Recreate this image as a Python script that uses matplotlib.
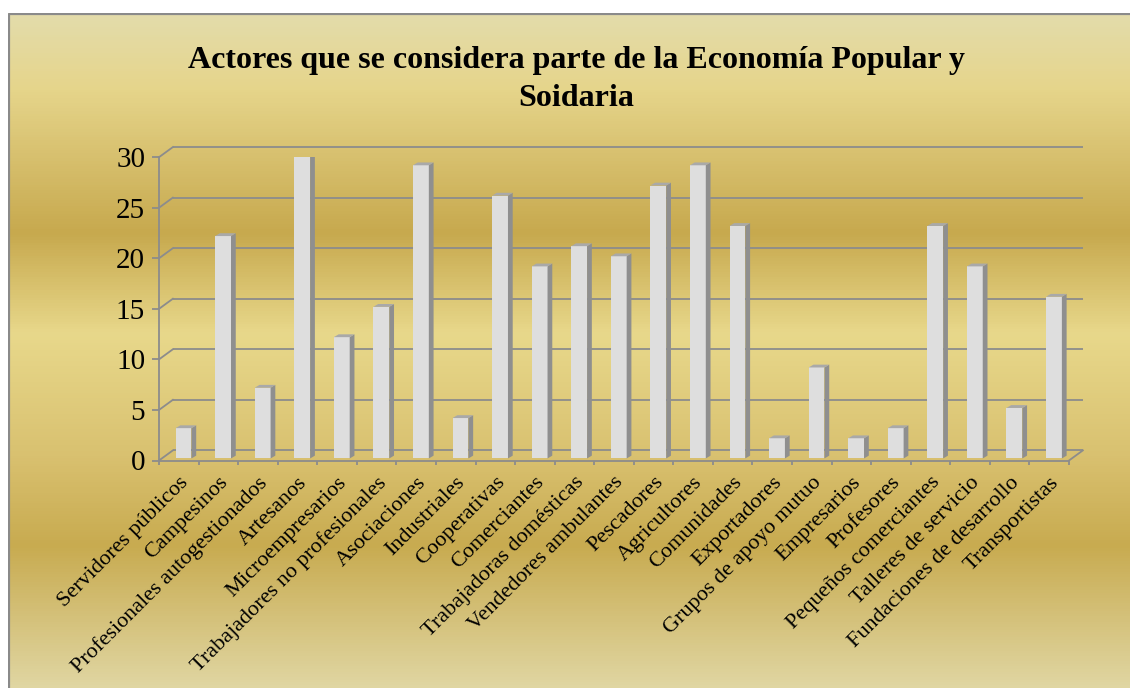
import numpy as np
import matplotlib
matplotlib.use("Agg")
import matplotlib.pyplot as plt
from matplotlib.colors import LinearSegmentedColormap
from matplotlib.patches import Polygon

# ---------------- data ----------------
categories = [
    "Servidores públicos", "Campesinos", "Profesionales autogestionados",
    "Artesanos", "Microempresarios", "Trabajadores no profesionales",
    "Asociaciones", "Industriales", "Cooperativas", "Comerciantes",
    "Trabajadoras domésticas", "Vendedores ambulantes", "Pescadores",
    "Agricultores", "Comunidades", "Exportadores", "Grupos de apoyo mutuo",
    "Empresarios", "Profesores", "Pequeños comerciantes",
    "Talleres de servicio", "Fundaciones de desarrollo", "Transportistas",
]
values = [3, 22, 7, 30, 12, 15, 29, 4, 26, 19, 21, 20, 27, 29, 23,
          2, 9, 2, 3, 23, 19, 5, 16]
yticks = [0, 5, 10, 15, 20, 25, 30]
title = "Actores que se considera parte de la Economía Popular y\nSoidaria"

# ---------------- style ----------------
W, H = 1130, 688
FONT = "Liberation Serif"
GRID = "#8c8c8c"
FRONT, SIDE, TOP = "#dedede", "#8f8f8f", "#a9a9a9"

fig = plt.figure(figsize=(W / 100, H / 100), dpi=100)
fig.patch.set_facecolor("white")

# gradient background
bg = fig.add_axes([8 / W, 0, 1 - 8 / W, (H - 13) / H])
stops = [(0.0, "#e3dcab"), (0.11, "#e6d58b"), (0.325, "#c7a94e"),
         (0.475, "#e8d88b"), (0.655, "#d9c170"), (0.79, "#c8ab50"),
         (1.0, "#e0d6a2")]
cmap = LinearSegmentedColormap.from_list("gold", stops)
grad = np.linspace(0, 1, 675).reshape(-1, 1)
bg.imshow(grad, aspect="auto", cmap=cmap, extent=[0, 1, 0, 1], origin="upper")
bg.set_xlim(0, 1)
bg.set_ylim(0, 1)
bg.axis("off")
bg.plot([0.001, 0.001, 1], [0, 0.999, 0.999], color="#8a8a8a", lw=1.6,
        solid_capstyle="butt")

# main axes (front plane)
x0, x1 = 159, 1069
y0, y1 = 460.5, 157.2
ax = fig.add_axes([x0 / W, (H - y0) / H, (x1 - x0) / W, (y0 - y1) / H])
ax.patch.set_alpha(0)
n = len(categories)
ax.set_xlim(0, n)
ax.set_ylim(0, 30)
for s in ax.spines.values():
    s.set_visible(False)

DX, DY = 0.35, 1.0  # depth of the walls in data units
lw = 1.3
# back-wall gridlines and diagonals
for v in yticks:
    ax.plot([DX, n + DX], [v + DY, v + DY], color=GRID, lw=lw, clip_on=False,
            zorder=1, solid_capstyle="butt")
    ax.plot([0, DX], [v, v + DY], color=GRID, lw=lw, clip_on=False, zorder=1)
# floor front edge and right diagonal
ax.plot([0, n], [0, 0], color=GRID, lw=lw, clip_on=False, zorder=1,
        solid_capstyle="butt")
ax.plot([n, n + DX], [0, DY], color=GRID, lw=lw, clip_on=False, zorder=1)
# front vertical axis
ax.plot([0, 0], [0, 30], color=GRID, lw=lw, clip_on=False, zorder=1)

# bars
off, bw = 0.42, 0.40
bdx, bdy = 0.12, 0.28
base = 0.2
xs = np.arange(n) + off
ax.bar(xs, values, width=bw, bottom=base, align="edge", color=FRONT,
       edgecolor="none", zorder=3)
for xl, v in zip(xs, values):
    top = base + v
    side = Polygon([(xl + bw, base), (xl + bw + bdx, base + bdy),
                    (xl + bw + bdx, top + bdy), (xl + bw, top)],
                   closed=True, facecolor=SIDE, edgecolor="none", zorder=3)
    cap = Polygon([(xl, top), (xl + bdx, top + bdy),
                   (xl + bw + bdx, top + bdy), (xl + bw, top)],
                  closed=True, facecolor=TOP, edgecolor="none", zorder=3)
    ax.add_patch(side)
    ax.add_patch(cap)

# y ticks
ax.set_yticks(yticks)
ax.set_yticklabels([str(v) for v in yticks], fontfamily=FONT, fontsize=21)
ax.tick_params(axis="y", direction="out", length=5, width=lw, color=GRID,
               pad=5)

# x ticks: labels at centres, marks at boundaries
ax.set_xticks(np.arange(n) + 0.5)
ax.set_xticklabels(categories, fontfamily=FONT, fontsize=16, rotation=45,
                   ha="right", va="top", rotation_mode="anchor")
ax.set_xticks(np.arange(n + 1), minor=True)
ax.tick_params(axis="x", which="major", length=0, pad=9)
ax.tick_params(axis="x", which="minor", direction="out", length=3, width=lw,
               color=GRID)

fig.text(576 / W, (H - 106) / H, title, ha="center", va="baseline",
         fontfamily=FONT, fontweight="bold", fontsize=23, linespacing=1.42,
         multialignment="center")

fig.savefig("out.png", dpi=100)
